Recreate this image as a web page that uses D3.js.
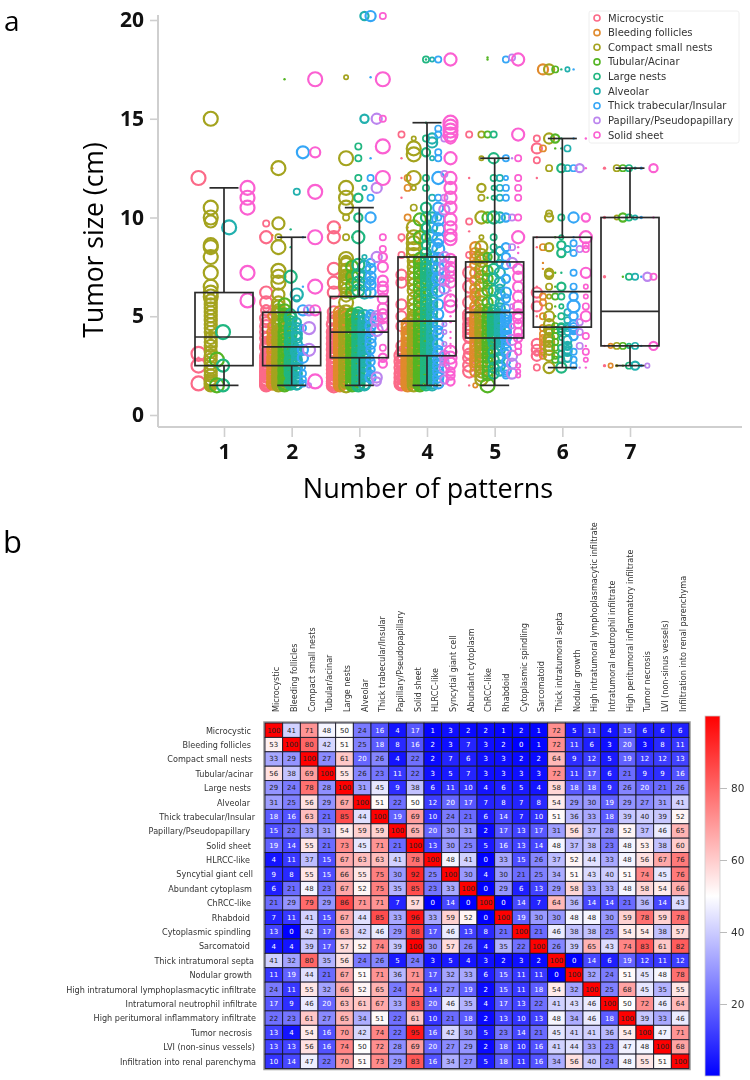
<!DOCTYPE html>
<html><head><meta charset="utf-8">
<script src="https://cdn.jsdelivr.net/npm/d3@7"></script>
<style>
html,body{margin:0;padding:0;background:#fff}
svg{display:block;filter:blur(0.35px)}
text{font-family:"DejaVu Sans",sans-serif}
.big{font-family:"Open Sans",sans-serif}
</style></head><body>
<svg id="c" width="750" height="1080"></svg>
<script>
// ---------- panel a ----------
const patterns=["Microcystic","Bleeding follicles","Compact small nests","Tubular/Acinar","Large nests","Alveolar","Thick trabecular/Insular","Papillary/Pseudopapillary","Solid sheet"];
const patternColors=["#fb6a88","#e08a2c","#a4a31e","#54b524","#20b680","#22b0ae","#35a6f6","#bb85ee","#fb60d2"];
const patternCounts=[1,2,3,4,5,6,7];
const yTicks=[0,5,10,15,20];
// box statistics per number of patterns: low, q1, median, q3, high
const boxStats=[[1.5,2.5,3.95,6.2,11.5],[1.5,2.5,3.45,5.2,9],[1.5,2.9,4.2,6,10.5],[1.5,3,4.75,8,14.8],[1.5,3.9,5.2,7.75,13],[2.4,4.45,6.25,9,14],[2.5,3.5,5.25,10,12.5]];
// points: one list per pattern; each row = [case weight, tumor sizes...]
const g1=[
[[7,12,3.1,2.5,1.6],[1,2.9]],
[],
[[7,15,10.5,10,8.6,8.5,8,7.2,6.5,6.2,6],[6,9.8,5.8,5.6,5.4,5.2,5,4.8,4.6,4.4,4.2,3.9,3.7,3.5,3.2,3,2.8,2.6,2.4,2.2,2,1.8,1.7,1.6,1.5]],
[[7,2.8,1.5]],
[[7,4.2],[6,2.5,1.5]],
[[7,9.5]],
[],
[],
[[7,11.5,11,10.5,7.2,5.8]]];
const g2=[
[[6,9,6.2,5.7,4.9,4.5,4.2,3.9,3.4,2.9,2.5,2.2,2,1.8,1.6,1.5],[5,5.3,4.7,3.7,3.1,2.7,2.4,2.3,1.9,1.7],[3,9.7,5.4,4,3.3,2.8,3.6,3.2,2.6,2.1],[6,3.5,3,2.75,2.6,2.35,2.15,1.95,1.75,1.65,1.55]],
[[1,12.5,6.5,5.7,9.1],[4,4.5,4,3.5,3,2.5,2,1.8,1.5,5],[5,4.2,3.2,2.7,2.2,1.6,3.7,3.9,3.4,2.9,2.6,2.4,2.1,1.9,1.7,1.55]],
[[7,12.5,8.5,7.3,7,6.7],[6,9.7,6.1,5.7,5.5,5.3,5.1,4.9,4.7,4.5,4.3,4.1,3.9,3.7,3.5,3.3,3.1,2.9,2.7,2.5,2.3,2.1,1.9,1.7,1.5,5.2,4.6,4.2,3.8,3.4,3,2.8,2.6,2.2,2,1.8,1.6],[3,9]],
[[1,17],[6,5.6,5.1,4.8,4.2,3.8,3.2,2.8,2.3,1.9,1.5,5.3,4.6,4,3.6,3.4,3,2.7,2.5,2.2,2,1.8,1.6],[5,4.5,3.5,2.6,2.1,1.7]],
[[1,8.5,9.4],[6,7,2.4,1.6,4.9,4.4,4.1,3.7,3.4,3.2,2.8,2.6,2.3,2.1],[5,5.1,4.6,4.3,3.8,3.3,3,2.7],[4,4.8,4,3.6,3.1,2.9,2.5,2.2,2,1.8,1.6,1.5]],
[[3,11.3,5.9,3.4],[6,6.1,3.2,1.6],[5,4.4,3.9,2.6,4.1,3.6,3.3,3.1,2.8,2.4,2.1,1.8],[4,4.7,4,3,2.2,1.9,1.7,1.5]],
[[6,13.3],[1,9,6.5],[5,5.3,3.3,2.9],[3,4.4,2.1,1.8,1.6],[2,2.4]],
[[5,5.3],[6,4.4,3.3],[2,1.5]],
[[7,17,11.3,9,6.5,1.7],[5,13.3,5.3]]];
const g3=[
[[6,9.5,9,7.4,6.7,6.2,5.2,4.9],[7,4.6,4.2,3.9,3.6,3.3,3,2.8,2.5,2.3,2.1,1.9,1.7,1.6,1.5],[5,4.4,4.1,3.7,3.4,3.1,2.7,2.4,2.2,2,1.8,1.55,4.8,4.3,3.8,3.5,3.2,2.9,2.6,2.45,2.25,2.05,1.85,1.65]],
[[1,9.5],[6,5.2,5,4.8,4.5,4.3,4,3.8,3.5,3.3,3,2.8,2.6,2.4,2.2,2,1.8,1.6,1.5,4.9,4.6,4.2,3.9,3.6,3.2,2.9,2.7,2.5,2.3,2.1,1.9,1.7]],
[[2,17.1],[3,10,9],[7,13,11.5,11,10.5,7.9,7.6,7.3,7,6.7,6.5,5.7,5.2,5,4.7,4.4,4.1,3.9,3.6,3.3,3.1,2.8,2.5,2.3,2,1.8,1.5],[5,6.2,6,4.9,4.2,3.5,2.7,2.2,1.7,7.8,7.4,7.1,6.9,6.4,4.6,4,3.8,3.2,3,2.6,2.4,2.1,1.9,1.6]],
[[1,9],[6,7.5,7,6.6,6.2,5.1,4.8,4.6,4.2,3.8,3.5,3.2,2.9,2.6,2.3,2,1.7,1.5,5,4.5,4,3.6,3.3,3,2.7,2.4,2.1,1.9,1.6],[5,4.4,3.4,2.8,2.1]],
[[3,13.6,13,12],[4,11,10],[6,9,7.6,7.1,6.7,6.3,5,4.7,4.4,4,3.7,3.3,3,2.7,2.4,2.1,1.8,1.5,4.9,4.5,4.2,3.9,3.5,3.1,2.8,2.5,2.2,1.9,1.6],[5,5.2,4.2,3.5,2.6,2]],
[[4,20.2,15],[2,11.5,8],[6,7.5,7,6.6,6.2,5,4.5,4.1,3.8,3.4,3.1,2.8,2.6,2.3,2,1.6,4.7,4.3,3.6,3.2,2.9,2.5,2.2],[5,4.8,4.2,3.6,2.5,1.5]],
[[5,20.2,10],[1,17.1,13],[3,12,11],[5,7.4,7,6.6,6.2,4.9,4.5,3.9,3.6],[4,7.7,6.8,5.1,4.2,3.3,2.7,2.3],[5,1.9],[3,2.9,2.1]],
[[5,15,11.5,8,5,1.9],[4,1.7],[6,4.8,4.3]],
[[3,9,20.2,15,8.4,3.4],[7,17,13.6,12],[5,7.5,6.8,6.5,6.3,5.4,4.9,4.5],[4,8,2.9,2.6],[5,5.9,5.1]]];
const g4=[
[[1,13,12,11,8.8],[3,14.2,9,8.1],[5,7.1,6.7,5.6,5,4.5,3.5,3.2],[7,3,2.7,2.4,2.1,1.9,1.7,1.6],[4,2.9,2.5,2.3,2,1.5,2.8,2.6,2.2,1.8,1.55]],
[[1,9.5,9.1],[3,12,11.5,10],[6,4.4,4.1,3.8,3.5,3.2,3,2.8,2.6,2.4,2.2,2,1.8,1.6,1.5,4.6,4.2,3.9,3.6,3.3,2.9,2.7,2.5,2.3,2.1,1.9,1.7],[5,4,3.4,2.9,2.5,2.1,1.7]],
[[2,14,11.5],[7,13.5,13.2,12,9.5,9,8.7,8.4,8.1],[6,7.8,7.5,7.2,6.9,6.6,6.3,5.9,5.6,5.3,5,4.8,4.6,4.3,4,3.8,3.5,3.3,3,2.8,2.5,2.3,2,1.8,1.5,4.9,4.5,4.2,3.9,3.6,3.2,2.9,2.7,2.4,2.2,1.9,1.7],[3,10.5]],
[[6,9.9,9,7.7,7.2,6.7,6,5.4,4.8,4.3,3.9,3.5,3.2,2.9,2.6,2.3,2,1.7,1.5,7.9,7.4,7,6.4,5.7,5.1,4.5,4.1,3.7,3.3,3,2.7,2.4,2.1,1.9,1.6],[5,5.1,4.5,3.7,3,2.4,1.8]],
[[1,14.8,18],[3,14,12,18],[4,13.3,9.5,9,8.6],[5,10.5,10,8.2,7.6,7.2,6.8,6.3,5.8,5.4,5,4.7,4.3,3.9,3.6,3.3,3,2.7,2.4,2.1,1.9,1.7,1.5,7.9,7.4,7,6.6,6.1,5.6,5.2,4.8,4.5,4.1,3.7,3.4,3.1,2.8,2.5,2.2,2,1.6],[3,11.5,7]],
[[2,18,13],[5,14,13.8,10,9.5,9.1,8.5,8,7.5,6.9,6.3,5.7,5.2,4.7,4.2,3.8,3.4,3,2.7,2.4,2.1,1.8,1.5,7.8,7.2,6.6,6,5.5,4.9,4.5,4,3.6,3.2,2.8,2.5,2.2,1.9,1.6],[3,11,6.6,5.5,4.4]],
[[3,18,14.5,14.2,13.3,13,11,10],[6,12,9.9,9.4,8.9,8.4,7.9,7.4,6.9,6.3],[5,10.5,5.6,5.1,4.6,4.1,3.6,3.1,2.8,2.5,2.2,1.9,1.6],[4,8.7,7,4.3,3.3]],
[[3,14,11,12.2],[5,10.4,8,7.6,7.2,6.8,6.4,3,2.4],[2,4.6,4.2,3.6],[4,2.7,1.8]],
[[7,14.8,14.6,14.4,14.2],[6,18,12,11.5,11,10.5,13,9.9,9.5,9.1,8.9],[5,14,7.9,7.5,7.3,7,6.7],[6,5.8,5.5,3.2,2.9,2.6],[1,10.2,6.3,6,5,4.7,4.2,3.9,3.6,3.4],[4,2.2,2,1.7]]];
const g5=[
[[3,14.2,9.8,8.1],[1,12,9.3],[6,7.2,6.5,5.7,5.1,4.6,4.2,3.4,2.9,2.5,2.2,4.9,4.4,4],[5,3.9,3.1],[1,1.5]],
[[2,1.5],[3,5.8],[5,8.5,8.2,7.9,7.6,7.2,6.8,6.4,6,5.5,5.1,4.8,4.5,4.2,3.9,3.5,3.1,2.8,2.5,2.2,5.3,4.9,4.6,4.3,4,3.7,3.3,3,2.7],[4,6.2,4,3.3]],
[[2,13,9],[4,11.5],[3,11,14.2],[6,10,8.5,8.1,7.8,7.4,7,6.6,6.1,5.7,5.3,5,4.7,4.4,4.1,3.7,3.4,3,2.7,2.4,2.2,2,1.8,5.1,4.9,4.5,4.2,3.9,3.6,3.2]],
[[1,18,18.1,11],[3,14.2],[7,1.5],[5,10,7.3,6.9,6.3,5.7,5.2,4.9,4.5,4.1,3.7,3.3,2.9,2.5,2.2,2,5,4.7,4.3,3.9,3.5,3.1,2.7],[4,8,6.6,5.4,3.5]],
[[3,14.2,12,9,8.5],[2,11.5,11],[6,10,5.1,4.8,4.5,4.2,3.9],[5,13,8,7.4,6.9,6.3,5.8,5.3,5,4.7,4.4,4,3.6,3.2,2.8,2.4,2.1,4.9,4.6,4.3,4.1,3.8]],
[[3,12,11.5,11,7.7],[5,10,7.2,6.7,6.1,5.4,5.1,4.8,4.5,4.1,3.7,3.3,2.9,2.5,5,4.7,4.3,4,3.9],[4,8.3,6.4,5.7,4.6,3.5,2.2]],
[[3,18,13],[2,12],[3,11.5,11],[4,10,8.5,8,7.6,6.9,5.9,5.4,5.1,4.7,4.3,4,3.6,3.1,2.7],[5,6.2,4.4,3.3,2.3,5,4.8,4.5,4.2,3.9],[3,2.1,2]],
[[3,18.1,10,8.5],[1,13],[2,5.5,4.5],[5,7.7,3.8,3,2.6,2.1]],
[[6,18,9,14.2],[3,13,12,11.5,11,10],[1,8.5,8.2,6.3,5.8,4.7,4.4],[5,7.4,7,6.5,6,5.5,5.1,4.9],[4,4.6,4.2,3.9],[3,3.5,3.2],[2,2.5,2.2,2]]];
const g6=[
[[3,14,12.9],[5,13.5,6.2,3.3,3],[1,12,9,6.5,8.5,5],[5,5.5,3.6],[2,3.1],[3,2.4]],
[[3,13.5,6,8.5],[5,17.5],[1,7.7,7.4],[3,5.7,5],[3,4.1,4.4],[3,3.5,3.2,3,3.7,3.9]],
[[5,14],[5,17.5],[3,12.5,10.2],[4,10,8.5,7.2,7.1],[3,6.5,4.2,5.5],[2,6],[5,5,4.6,4.3,3.9,3.5,3,3.3,3.7],[5.5,2.4]],
[[3,17.5],[4,14],[1,13.5,9,7.2,6.5,5.5,5],[3,6,4.5,4,4.3],[3,3.4,3,2.8,3.7]],
[[1,14,17.5,13.5],[4,12.5,8.6,8.2,6.5,4.4],[3,10,6,5,4.5,4.2],[2,9,5.5,3.9],[1,7.2],[3,3.4,3.1,2.8],[5,2.4]],
[[2,17.5],[3,13.5],[3,12.5,8.4],[3,5.2,4.8,4.5,4.2,4.4],[4,3.8,3.2,2.9,3.5,3.3]],
[[1,17.5,14],[3,12.5,8.7,8.2],[5,10],[1,9],[3,7.2,6.5],[4,6],[6,5.5],[4,5,4.6,4.3,4,4.45],[3,3.2,2.8,2.5],[1,2.4]],
[[4,12.5],[3,8.4,4.7,4.2],[3,3.5],[1,2.4]],
[[1,14,12.5,2.4],[4,10],[6,9],[3,8.6,8.4],[5,7.2],[2,6.5,6],[3,5.5,4],[5,5],[1,3.5],[3,3.2],[2,2.8]]];
const g7=[
[[1.5,12.5,10,7,2.5],[1,3.5]],
[[2,3.5],[2,2.5]],
[[3,12.5,3.5],[2,10],[1.5,2.5]],
[[3,12.5,3.5],[4,10],[1,7,2.5]],
[[3,12.5,10,7],[2,3.5],[3,2.5]],
[[1.5,12.5],[2,10],[3,7,3.5],[4,2.5]],
[[1.5,12.5,10,2.5],[1,7,3.5]],
[[4,7],[2,2.5]],
[[4,12.5,3.5],[1,10],[3,7]]];
const groups=[g1,g2,g3,g4,g5,g6,g7];

// ---------- panel b ----------
const features=["Microcystic","Bleeding follicles","Compact small nests","Tubular/acinar","Large nests","Alveolar","Thick trabecular/Insular","Papillary/Pseudopapillary","Solid sheet","HLRCC-like","Syncytial giant cell","Abundant cytoplasm","ChRCC-like","Rhabdoid","Cytoplasmic spindling","Sarcomatoid","Thick intratumoral septa","Nodular growth","High intratumoral lymphoplasmacytic infiltrate","Intratumoral neutrophil infiltrate","High peritumoral inflammatory infiltrate","Tumor necrosis","LVI (non-sinus vessels)","Infiltration into renal parenchyma"];
const labelNudge=[-4,-4,-3,-2,-4,-5,0,-5,-4,-5,-2,-3,-4,-5,-4,-5,-1,-3,1,2,1,-3,0,1];
const matrix=[
[100,41,71,48,50,24,16,4,17,1,3,2,2,1,2,1,72,5,11,4,15,6,6,6],
[53,100,80,42,51,25,18,8,16,2,3,7,3,2,0,1,72,11,6,3,20,3,8,11],
[33,29,100,27,61,20,26,4,22,2,7,6,3,3,2,2,64,9,12,5,19,12,12,13],
[56,38,69,100,55,26,23,11,22,3,5,7,3,3,3,3,72,11,17,6,21,9,9,16],
[29,24,78,28,100,31,45,9,38,6,11,10,4,6,5,4,58,18,18,9,26,20,21,26],
[31,25,56,29,67,100,51,22,50,12,20,17,7,8,7,8,54,29,30,19,29,27,31,41],
[18,16,63,21,85,44,100,19,69,10,24,21,6,14,7,10,51,36,33,18,39,40,39,52],
[15,22,33,31,54,59,59,100,65,20,30,31,2,17,13,17,31,56,37,28,52,37,46,65],
[19,14,55,21,73,45,71,21,100,13,30,25,5,16,13,14,48,37,38,23,48,53,38,60],
[4,11,37,15,67,63,63,41,78,100,48,41,0,33,15,26,37,52,44,33,48,56,67,76],
[9,8,55,15,66,55,75,30,92,25,100,30,4,30,21,25,34,51,43,40,51,74,45,76],
[6,21,48,23,67,52,75,35,85,23,33,100,0,29,6,13,29,58,33,33,48,58,54,66],
[21,29,79,29,86,71,71,7,57,0,14,0,100,0,14,7,64,36,14,14,21,36,14,43],
[7,11,41,15,67,44,85,33,96,33,59,52,0,100,19,30,30,48,48,30,59,78,59,78],
[13,0,42,17,63,42,46,29,88,17,46,13,8,21,100,21,46,38,38,25,54,54,38,57],
[4,4,39,17,57,52,74,39,100,30,57,26,4,35,22,100,26,39,65,43,74,83,61,82],
[41,32,80,35,56,24,26,5,24,3,5,4,3,2,3,2,100,0,14,6,19,12,11,12],
[11,19,44,21,67,51,71,36,71,17,32,33,6,15,11,11,0,100,32,24,51,45,48,78],
[24,11,55,32,66,52,65,24,74,14,27,19,2,15,11,18,54,32,100,25,68,45,35,55],
[17,9,46,20,63,61,67,33,83,20,46,35,4,17,13,22,41,43,46,100,50,72,46,64],
[22,23,61,27,65,34,51,22,61,10,21,18,2,13,10,13,48,34,46,18,100,39,33,46],
[13,4,54,16,70,42,74,22,95,16,42,30,5,23,14,21,45,41,41,36,54,100,47,71],
[13,13,56,16,74,50,72,28,69,20,27,29,2,18,10,16,41,44,33,23,47,48,100,68],
[10,14,47,22,70,51,73,29,83,16,34,27,5,18,11,16,34,56,40,24,48,55,51,100]];
const barTicks=[20,40,60,80];

const svg=d3.select("#c");
const x=d3.scaleLinear([1,7],[224,630]);
const dodge=d3.scalePoint(patterns,[-25.5,23.5]);
const y=d3.scaleLinear([0,20],[415,20]);
const rScale=d3.scaleLinear([1,7],[1.2,7]);
const color=d3.scaleOrdinal(patterns,patternColors);

// axes
const axL=svg.append("g").attr("transform","translate(158,0)")
  .call(d3.axisLeft(y).tickValues(yTicks).tickSize(8).tickPadding(6));
const axB=svg.append("g").attr("transform","translate(0,427)")
  .call(d3.axisBottom(x).tickValues(patternCounts).tickFormat(d3.format("d")).tickSize(10).tickPadding(7));
axL.select(".domain").attr("d","M0,15V427");
axB.select(".domain").attr("d","M158,0H742");
[axL,axB].forEach(a=>{
  a.selectAll(".domain").attr("stroke","#cfcfcf").attr("stroke-width",2).attr("fill","none");
  a.selectAll(".tick line").attr("stroke","#cfcfcf").attr("stroke-width",1.6);
  a.selectAll("text").attr("class","big").attr("fill","#111").attr("font-size",21).attr("font-weight",700);
});

// points
const points=groups.flatMap((g,gi)=>g.flatMap((rows,si)=>rows.flatMap(([w,...vals])=>vals.map(v=>({n:patternCounts[gi],p:patterns[si],w,v})))));
svg.append("g").selectAll("circle").data(points).join("circle")
  .attr("cx",d=>x(d.n)+dodge(d.p)).attr("cy",d=>y(d.v)).attr("r",d=>rScale(d.w))
  .attr("fill",d=>d.w<2?color(d.p):"none")
  .attr("stroke",d=>d.w<2?"none":color(d.p))
  .attr("stroke-width",d=>d.w>=4?2.2:1.7);

// boxes
const box=svg.append("g").attr("fill","none").attr("stroke","#2a2a2a").attr("stroke-width",1.7)
  .selectAll("g").data(boxStats).join("g");
const bw=29, cap=14.5;
box.append("rect").attr("x",(d,i)=>x(patternCounts[i])-bw).attr("width",2*bw)
  .attr("y",d=>y(d[3])).attr("height",d=>y(d[1])-y(d[3]));
box.append("line").attr("x1",(d,i)=>x(patternCounts[i])-bw).attr("x2",(d,i)=>x(patternCounts[i])+bw)
  .attr("y1",d=>y(d[2])).attr("y2",d=>y(d[2]));
box.append("line").attr("x1",(d,i)=>x(patternCounts[i])).attr("x2",(d,i)=>x(patternCounts[i]))
  .attr("y1",d=>y(d[3])).attr("y2",d=>y(d[4]));
box.append("line").attr("x1",(d,i)=>x(patternCounts[i])).attr("x2",(d,i)=>x(patternCounts[i]))
  .attr("y1",d=>y(d[1])).attr("y2",d=>y(d[0]));
[4,0].forEach(k=>box.append("line").attr("x1",(d,i)=>x(patternCounts[i])-cap).attr("x2",(d,i)=>x(patternCounts[i])+cap)
  .attr("y1",d=>y(d[k])).attr("y2",d=>y(d[k])));

// legend
const leg=svg.append("g");
leg.append("rect").attr("x",589).attr("y",11).attr("width",150).attr("height",132).attr("rx",2)
  .attr("fill","#fff").attr("fill-opacity",.9).attr("stroke","#eee");
const legRow=d3.scalePoint(patterns,[18,135]);
const li=leg.selectAll("g").data(patterns).join("g").attr("transform",d=>`translate(597,${legRow(d)})`);
li.append("circle").attr("r",3).attr("fill","none").attr("stroke",d=>color(d)).attr("stroke-width",1.6);
li.append("text").attr("x",11).attr("dy","0.35em").attr("font-size",10).attr("fill","#333").text(d=>d);

// titles
svg.append("text").attr("class","big").attr("x",4).attr("y",31).attr("font-size",28).text("a");
svg.append("text").attr("class","big").attr("x",3).attr("y",553).attr("font-size",31).text("b");
svg.append("text").attr("class","big").attr("transform","translate(103,240) rotate(-90)").attr("text-anchor","middle").attr("font-size",26.5).text("Tumor size (cm)");
svg.append("text").attr("class","big").attr("x",428).attr("y",498).attr("text-anchor","middle").attr("font-size",27).text("Number of patterns");

// heatmap
const hx=d3.scaleBand(features,[265,689]);
const hy=d3.scaleBand(features,[723,1068.5]);
const heat=d3.scaleLinear([0,50,100],["#0000ff","#ffffff","#ff0000"]);
const cells=matrix.flatMap((row,r)=>row.map((v,c)=>({r:features[r],c:features[c],v})));
svg.append("rect").attr("x",264).attr("y",722).attr("width",426).attr("height",347.5).attr("fill","none").attr("stroke","#999").attr("stroke-width",1.5);
const cg=svg.append("g").selectAll("g").data(cells).join("g").attr("transform",d=>`translate(${hx(d.c)},${hy(d.r)})`);
cg.append("rect").attr("width",hx.bandwidth()).attr("height",hy.bandwidth()).attr("fill",d=>heat(d.v)).attr("stroke","#1a1a2a").attr("stroke-width",.9);
cg.append("text").attr("x",hx.bandwidth()/2).attr("y",hy.bandwidth()/2).attr("dy","0.36em").attr("text-anchor","middle")
  .attr("font-size",7).attr("fill",d=>d.v<=20?"#fff":"#222").text(d=>d.v);
svg.append("g").selectAll("text").data(features).join("text")
  .attr("x",(d,i)=>255+labelNudge[i]).attr("y",d=>hy(d)+hy.bandwidth()/2+.5).attr("dy","0.35em").attr("text-anchor","end")
  .attr("font-size",8.1).attr("fill","#333").text(d=>d);
svg.append("g").selectAll("text").data(features).join("text")
  .attr("transform",d=>`translate(${hx(d)+hx.bandwidth()/2+2.5},712) rotate(-90)`).attr("dy","0.35em")
  .attr("font-size",8.1).attr("fill","#333").text(d=>d);

// colour bar
const defs=svg.append("defs");
const grad=defs.append("linearGradient").attr("id","hb").attr("x1",0).attr("x2",0).attr("y1",1).attr("y2",0);
grad.selectAll("stop").data([0,50,100]).join("stop").attr("offset",d=>d+"%").attr("stop-color",d=>heat(d));
const by=d3.scaleLinear([0,100],[1076,716]);
svg.append("rect").attr("x",705).attr("y",by(100)).attr("width",15).attr("height",by(0)-by(100)).attr("fill","url(#hb)").attr("stroke","#ccc").attr("stroke-width",.8);
const bAx=svg.append("g").attr("transform","translate(720,0)").call(d3.axisRight(by).tickValues(barTicks).tickSize(7).tickPadding(4));
bAx.select(".domain").remove();
bAx.selectAll(".tick line").attr("stroke","#bbb");
bAx.selectAll("text").attr("font-size",10.5).attr("fill","#333");
</script>
</body></html>
